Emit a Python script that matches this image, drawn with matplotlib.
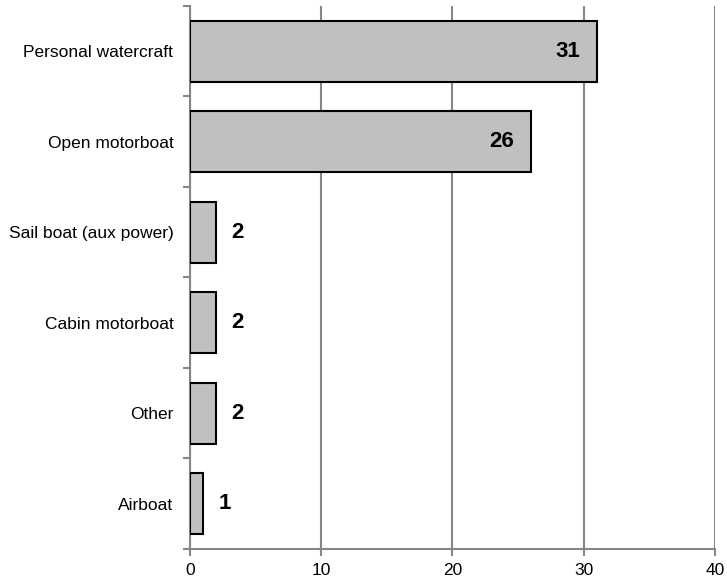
import matplotlib.pyplot as plt
import numpy as np

plt.rcParams['font.family'] = ['Liberation Sans', 'DejaVu Sans']

categories = ['Personal watercraft', 'Open motorboat', 'Sail boat (aux power)',
              'Cabin motorboat', 'Other', 'Airboat']
values = [31, 26, 2, 2, 2, 1]
xticks = [0, 10, 20, 30, 40]

fig = plt.figure(figsize=(7.27, 5.82), dpi=100)
ax = fig.add_axes([0.2613, 0.0567, 0.7222, 0.933])

y = np.arange(len(categories))[::-1]
ax.barh(y, values, height=0.67, color='#c0c0c0', edgecolor='black', linewidth=1.5, zorder=3)

# value labels: inside for long bars, outside for short ones
for yi, v in zip(y, values):
    if v > 10:
        ax.text(v - 1.3, yi, str(v), ha='right', va='center', fontsize=16, fontweight='bold', zorder=4)
    else:
        ax.text(v + 1.15, yi, str(v), ha='left', va='center', fontsize=16, fontweight='bold', zorder=4)

ax.set_xlim(0, 40)
ax.set_ylim(-0.5, len(categories) - 0.5)
ax.set_xticks(xticks)
ax.set_yticks(y)
ax.set_yticklabels(categories, fontsize=12.5)
ax.set_yticks(np.arange(-0.5, len(categories), 1), minor=True)
ax.tick_params(axis='y', which='major', length=0, pad=12)
ax.tick_params(axis='y', which='minor', length=5, color='#868686', width=1.5)
ax.tick_params(axis='x', length=5, color='#868686', width=1.5, labelsize=12.5, pad=5)

ax.grid(axis='x', color='#868686', linewidth=1.5, zorder=0)
for s in ['top', 'right']:
    ax.spines[s].set_visible(False)
for s in ['left', 'bottom']:
    ax.spines[s].set_color('#868686')
    ax.spines[s].set_linewidth(1.5)

plt.savefig('out.png')
plt.close()
